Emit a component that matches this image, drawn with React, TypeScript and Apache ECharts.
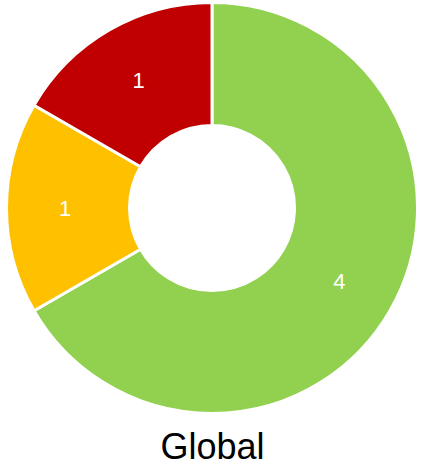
import React, { useEffect, useRef } from "react";
import * as echarts from "echarts";

const categories = ["Green", "Yellow", "Red"];
const values = [4, 1, 1];
const colors = ["#92D050", "#FFC000", "#C00000"];
const titleText = "Global";

export default function App() {
  const ref = useRef<HTMLDivElement>(null);
  useEffect(() => {
    document.body.style.margin = "0";
    const chart = echarts.init(ref.current!, null, { renderer: "svg" });
    chart.setOption({
      animation: false,
      title: {
        text: titleText,
        left: 207.5,
        textAlign: "center",
        top: 423,
        textStyle: {
          fontFamily: "Liberation Sans",
          fontSize: 36,
          fontWeight: "normal",
          color: "#000000",
        },
      },
      series: [
        {
          type: "pie",
          center: [212, 208],
          radius: [82.5, 205.5],
          startAngle: 90,
          clockwise: true,
          avoidLabelOverlap: false,
          label: {
            show: true,
            position: "inside",
            formatter: "{c}",
            color: "#ffffff",
            fontSize: 22,
            fontFamily: "Liberation Sans",
          },
          labelLine: { show: false },
          itemStyle: { borderColor: "#ffffff", borderWidth: 3 },
          emphasis: { disabled: true },
          data: categories.map((c, i) => ({
            name: c,
            value: values[i],
            itemStyle: { color: colors[i] },
          })),
        },
      ],
    });
    return () => chart.dispose();
  }, []);
  return <div ref={ref} style={{ width: 421, height: 468 }} />;
}
